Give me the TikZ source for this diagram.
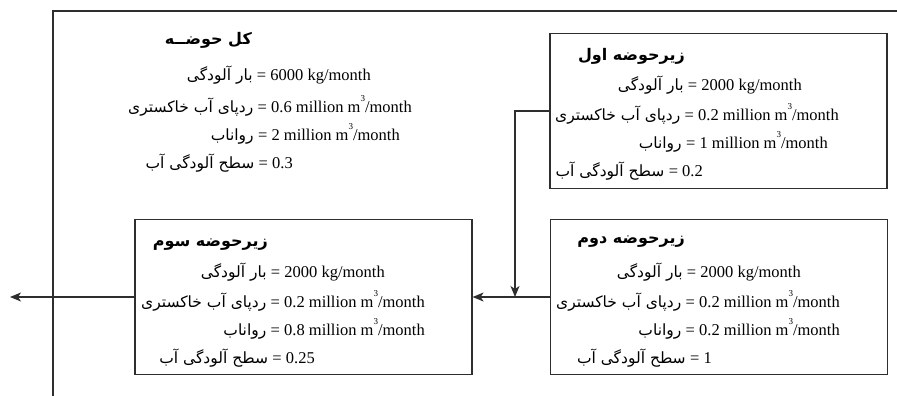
\documentclass[tikz,border=0pt]{standalone}
\usepackage{fontspec}
\setmainfont{Liberation Serif}
\newfontfamily\farsi[Script=Arabic]{DejaVu Sans}
\TeXXeTstate=1
\usetikzlibrary{arrows.meta}
\definecolor{ink}{HTML}{2E2E2E}

% one quantity line: name, right end x, baseline y, value, Persian label
\newcommand\qline[5]{%
  \node[val] (#1v) at (#2,#3) {= #4};
  \node[lab] (#1l) at ([xshift=-4pt]#1v.base west) {#5};}
% cubic metres per month, with a small raised 3
\newcommand\mcube{m\raisebox{0.62em}{\fontsize{9}{9}\selectfont 3}/month}

\tikzset{
  frameline/.style={draw=ink, line width=1.3pt},
  basin/.style={draw=ink, line width=1.2pt, minimum width=337pt,
    minimum height=155pt, inner sep=0pt},
  flow/.style={draw=ink, line width=1.4pt,
    -{Stealth[length=11pt,width=9pt,inset=3pt]}},
  val/.style={anchor=base east, inner sep=0pt, text=black,
    font=\fontsize{16.5}{19}\selectfont},
  lab/.style={anchor=base east, inner sep=0pt, text=black,
    font=\fontsize{15.5}{18}\farsi},
  ttl/.style={anchor=base east, inner sep=0pt, text=black,
    font=\fontsize{16}{19}\farsi\bfseries},
}

\begin{document}
\begin{tikzpicture}[x=1pt,y=-1pt]
\useasboundingbox (0,0) rectangle (897,396);

% outer frame of the whole basin
\coordinate (ftr) at (897,11);
\coordinate (ftl) at (53,11);
\coordinate (fbl) at (53,396);
\draw[frameline] (ftr) -- (ftl) -- (fbl);

% sub-basin boxes
\node[basin] (b1) at (718.5,111) {};
\node[basin] (b2) at (719,297) {};
\node[basin] (b3) at (303.5,297) {};

% whole basin
\node[ttl] (kt) at (252,45) {\beginR کل حوضــه\endR};
\qline{k1}{371}{81}{6000 kg/month}{\beginR بار آلودگی\endR}
\qline{k2}{412}{112}{0.6 million \mcube}{\beginR ردپای آب خاکستری\endR}
\qline{k3}{400}{140}{2 million \mcube}{\beginR رواناب\endR}
\qline{k4}{293}{168}{0.3}{\beginR سطح آلودگی آب\endR}

% first sub-basin
\node[ttl] (at) at (685,60) {\beginR زیرحوضه اول\endR};
\qline{a1}{802}{90}{2000 kg/month}{\beginR بار آلودگی\endR}
\qline{a2}{839}{120}{0.2 million \mcube}{\beginR ردپای آب خاکستری\endR}
\qline{a3}{828}{148}{1 million \mcube}{\beginR رواناب\endR}
\qline{a4}{703}{176}{0.2}{\beginR سطح آلودگی آب\endR}

% second sub-basin
\node[ttl] (dt) at (685,243) {\beginR زیرحوضه دوم\endR};
\qline{d1}{801}{277}{2000 kg/month}{\beginR بار آلودگی\endR}
\qline{d2}{840}{307}{0.2 million \mcube}{\beginR ردپای آب خاکستری\endR}
\qline{d3}{840}{335}{0.2 million \mcube}{\beginR رواناب\endR}
\qline{d4}{712}{363}{1}{\beginR سطح آلودگی آب\endR}

% third sub-basin
\node[ttl] (st) at (268,246) {\beginR زیرحوضه سوم\endR};
\qline{s1}{385}{277}{2000 kg/month}{\beginR بار آلودگی\endR}
\qline{s2}{425}{307}{0.2 million \mcube}{\beginR ردپای آب خاکستری\endR}
\qline{s3}{425}{335}{0.8 million \mcube}{\beginR رواناب\endR}
\qline{s4}{315}{363}{0.25}{\beginR سطح آلودگی آب\endR}

% flows between basins
\coordinate (join) at (515,297);
\coordinate (outlet) at (10,297);
\draw[flow] (b1.west) -| (join);
\draw[flow] (b2.west) -- (b3.east);
\draw[flow] (b3.west) -- (outlet);
\end{tikzpicture}
\end{document}
